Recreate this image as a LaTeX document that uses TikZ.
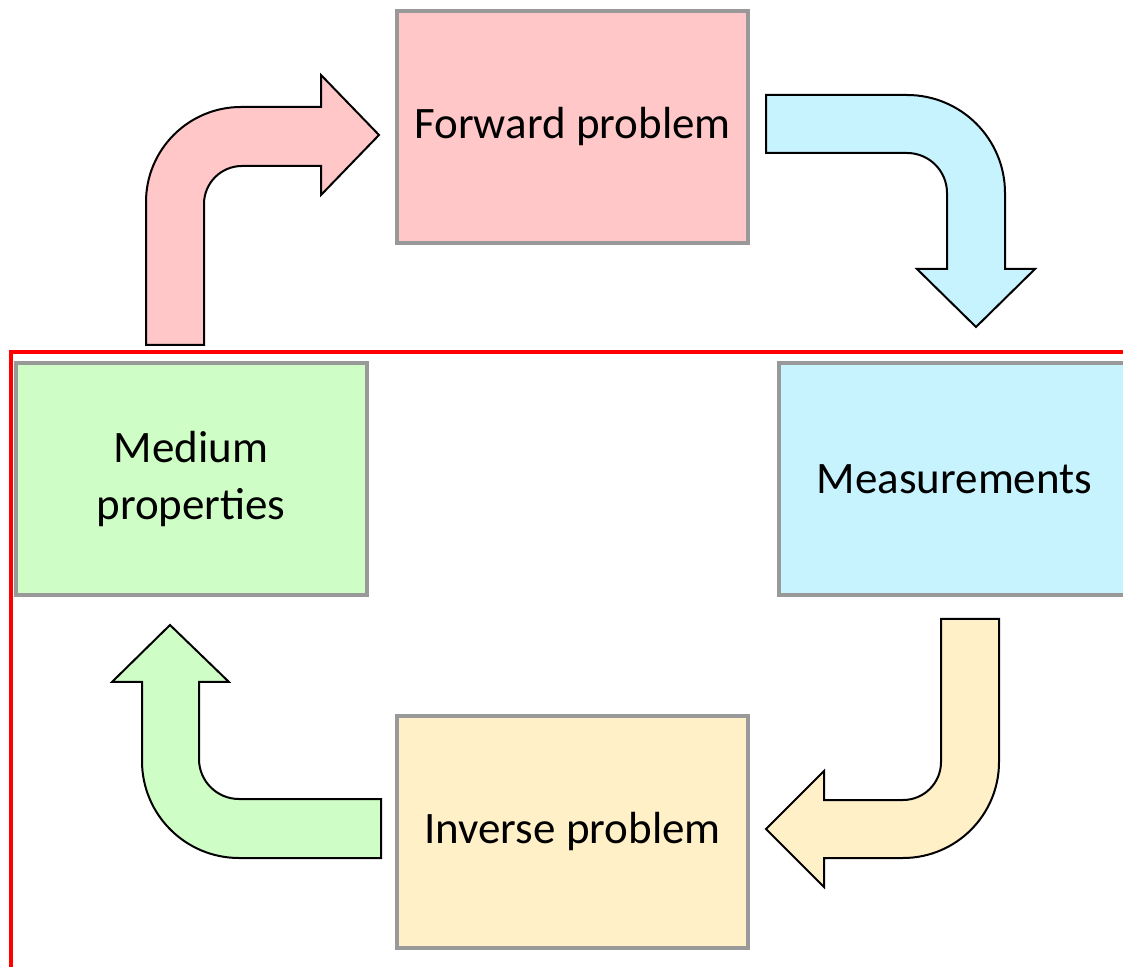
\documentclass[tikz,border=0pt]{standalone}
\usepackage{fontspec}
\setmainfont{Carlito}
\definecolor{fwdfill}{RGB}{255,199,199}
\definecolor{measfill}{RGB}{199,243,255}
\definecolor{medfill}{RGB}{207,253,198}
\definecolor{invfill}{RGB}{255,240,199}
\definecolor{boxline}{RGB}{153,153,153}
\definecolor{frameline}{RGB}{255,0,0}
\begin{document}
\begin{tikzpicture}[x=1pt,y=1pt,
  stagebox/.style={draw=boxline, line width=4pt, inner sep=0pt,
    minimum width=351pt, minimum height=232pt, align=center,
    font=\fontsize{45}{57}\selectfont},
  bentarrow/.style={draw=black, line width=2pt, line join=miter}]
\useasboundingbox (0,0) rectangle (1123,966);
\clip (0,0) rectangle (1123,966);

% red frame around the lower part
\coordinate (frameTop) at (1130,614);
\coordinate (frameCorner) at (11,614);
\coordinate (frameBottom) at (11,-10);
\draw[frameline, line width=3.2pt] (frameTop) -- (frameCorner) -- (frameBottom);

% the four stages
\node[stagebox, fill=fwdfill]  (fwd)  at (572.5,839) {Forward problem};
\node[stagebox, fill=measfill] (meas) at (954.5,487) {Measurements};
\node[stagebox, fill=medfill]  (med)  at (191,487)   {Medium\\properties};
\node[stagebox, fill=invfill]  (inv)  at (572.5,134) {Inverse problem};

% bent block arrows between the stages
\draw[bentarrow, fill=fwdfill]
  (146,621) -- (146,764) arc[start angle=180, end angle=90, radius=95]
  -- (321,859) -- (321,891) -- (379,831) -- (321,771) -- (321,800)
  -- (242,800) arc[start angle=90, end angle=180, radius=38]
  -- (204,621) -- cycle;

\draw[bentarrow, fill=measfill]
  (766,871) -- (907,871) arc[start angle=90, end angle=0, radius=98]
  -- (1005,697) -- (1035,697) -- (976,639) -- (917,697) -- (947,697)
  -- (947,773) arc[start angle=0, end angle=90, radius=40]
  -- (766,813) -- cycle;

\draw[bentarrow, fill=invfill]
  (941,347) -- (999,347) -- (999,204) arc[start angle=0, end angle=-90, radius=96]
  -- (824,108) -- (824,79) -- (766,137) -- (824,195) -- (824,166)
  -- (903,166) arc[start angle=-90, end angle=0, radius=38]
  -- cycle;

\draw[bentarrow, fill=medfill]
  (381,167) -- (239,167) arc[start angle=-90, end angle=-180, radius=40]
  -- (199,284) -- (229,284) -- (170,341) -- (112,284) -- (142,284)
  -- (142,205) arc[start angle=180, end angle=270, radius=97]
  -- (381,108) -- cycle;
\end{tikzpicture}
\end{document}
